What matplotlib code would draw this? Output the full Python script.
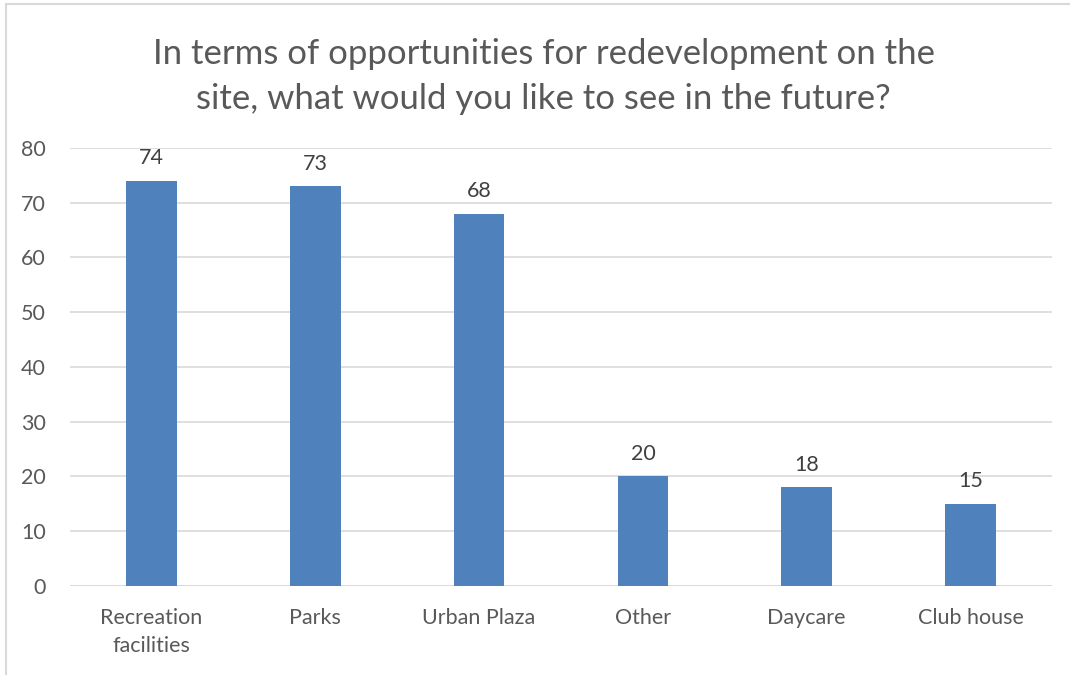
import matplotlib.pyplot as plt
from matplotlib.patches import Rectangle

plt.rcParams['font.family'] = ['Lato', 'DejaVu Sans']

categories = ['Recreation\nfacilities', 'Parks', 'Urban Plaza', 'Other', 'Daycare', 'Club house']
responses = [74, 73, 68, 20, 18, 15]
y_ticks = [0, 10, 20, 30, 40, 50, 60, 70, 80]

bar_color = '#4F81BD'
text_color = '#595959'
grid_color = '#D9D9D9'

fig = plt.figure(figsize=(10.7, 6.75), dpi=100)
ax = fig.add_axes([0.065, 0.1319, 0.9186, 0.6489])

x = range(len(categories))
bars = ax.bar(x, responses, width=0.31, color=bar_color, zorder=3)

for rect, val in zip(bars, responses):
    ax.annotate(str(val), (rect.get_x() + rect.get_width() / 2, val),
                xytext=(0, 9), textcoords='offset points',
                ha='center', va='bottom', fontsize=15.5, color='#404040')

ax.set_xlim(-0.5, len(categories) - 0.5)
ax.set_ylim(0, 80)
ax.set_yticks(y_ticks)
ax.set_xticks(list(x))
ax.set_xticklabels(categories, fontsize=15.5, color=text_color, linespacing=1.5)
ax.tick_params(axis='y', labelsize=15.5, labelcolor=text_color, length=0, pad=17)
ax.tick_params(axis='x', length=0, pad=16)
ax.yaxis.grid(True, color=grid_color, linewidth=1.2, zorder=0)
for spine in ax.spines.values():
    spine.set_visible(False)
ax.axhline(0, color=grid_color, linewidth=1.2, zorder=1)

fig.text(0.508, 0.887,
         'In terms of opportunities for redevelopment on the\nsite, what would you like to see in the future?',
         ha='center', va='center', fontsize=25, color=text_color, linespacing=1.5)

# chart area outline
fig.patches.append(Rectangle((6 / 1070, -0.1), 1.2, 1.1 - 4 / 675,
                             transform=fig.transFigure, fill=False,
                             edgecolor='#D9D9D9', linewidth=1.5))

fig.savefig('out.png', dpi=100)
